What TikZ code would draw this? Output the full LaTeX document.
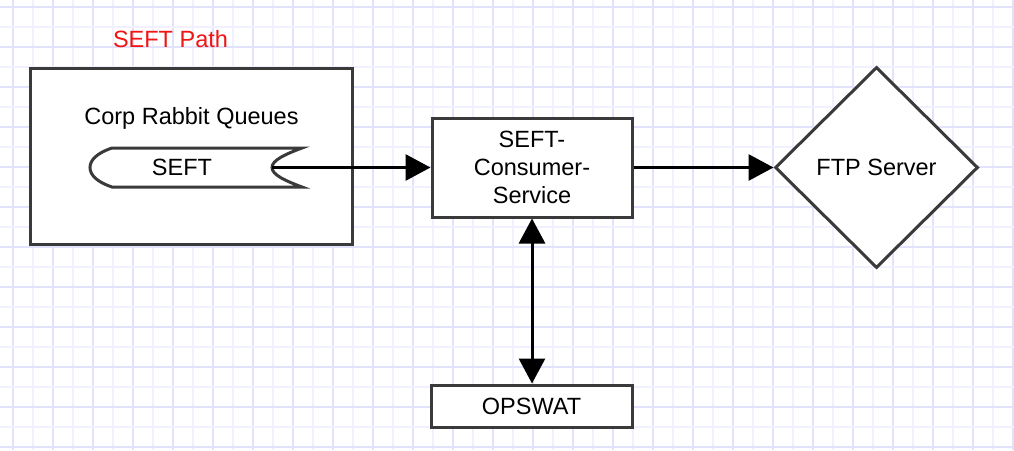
\documentclass[tikz,border=0pt]{standalone}
\usepackage{fontspec}
\setmainfont{Liberation Sans}
\usetikzlibrary{shapes.geometric,arrows.meta}
\definecolor{gridweak}{RGB}{240,240,254}
\definecolor{gridstrong}{RGB}{226,226,252}
\definecolor{frame}{RGB}{58,58,58}
\definecolor{pathred}{RGB}{240,20,20}
\tikzset{
  lbl/.style={font=\fontsize{23.5}{28}\selectfont, inner sep=0pt, align=center},
  boxnode/.style={draw=frame, line width=3pt, fill=white, inner sep=0pt, lbl},
  conn/.style={line width=3pt, draw=black, -{Triangle[length=25pt,width=26pt]}},
  dconn/.style={line width=3pt, draw=black, {Triangle[length=25pt,width=26pt]}-{Triangle[length=25pt,width=26pt]}},
}
\begin{document}
\begin{tikzpicture}[x=1pt,y=-1pt]
\useasboundingbox (0,0) rectangle (1014,450);
\fill[white] (0,0) rectangle (1014,450);
% grid
\foreach \i in {0,...,50} {
  \pgfmathsetmacro{\xx}{12.7+20*\i}
  \pgfmathtruncatemacro{\odd}{mod(\i,2)}
  \ifnum\odd=0
    \draw[gridstrong, line width=2pt] (\xx,0) -- (\xx,450);
  \else
    \draw[gridweak, line width=2pt] (\xx,0) -- (\xx,450);
  \fi
}
\foreach \j in {0,...,22} {
  \pgfmathsetmacro{\yy}{6.7+20*\j}
  \pgfmathtruncatemacro{\odd}{mod(\j,2)}
  \ifnum\odd=0
    \draw[gridstrong, line width=2pt] (0,\yy) -- (1014,\yy);
  \else
    \draw[gridweak, line width=2pt] (0,\yy) -- (1014,\yy);
  \fi
}
% title
\node[lbl, text=pathred] (title) at (170.5,39) {SEFT Path};
% corp box
\node[boxnode, minimum width=321.5pt, minimum height=176pt] (corp) at (191.25,156.5) {};
\node[lbl] (corptext) at (191.5,118) {Corp Rabbit Queues};
% queue shape
\draw[frame, line width=3pt, fill=white]
  (112,148) -- (302,148)
  .. controls (286,154) and (272,160) .. (272,167.5)
  .. controls (272,175) and (286,181) .. (302,187)
  -- (112,187)
  .. controls (97,182) and (90,175) .. (90,167.5)
  .. controls (90,160) and (97,153) .. (112,148) -- cycle;
\coordinate (notch) at (272,167.5);
\node[lbl] (seft) at (182,167.5) {SEFT};
% consumer
\node[boxnode, minimum width=200pt, minimum height=99pt] (consumer) at (532,167.5) {SEFT-\\Consumer-\\Service};
% ftp
\node[boxnode, diamond, minimum width=203pt, minimum height=201pt] (ftp) at (876.5,167.5) {FTP Server};
% opswat
\node[boxnode, minimum width=201pt, minimum height=42pt] (opswat) at (531.5,406) {OPSWAT};
% connectors
\draw[conn] (notch) -- (consumer.west);
\draw[conn] (consumer.east) -- (ftp.west);
\draw[dconn] (consumer.south -| 532,0) -- (opswat.north -| 532,0);
\end{tikzpicture}
\end{document}
